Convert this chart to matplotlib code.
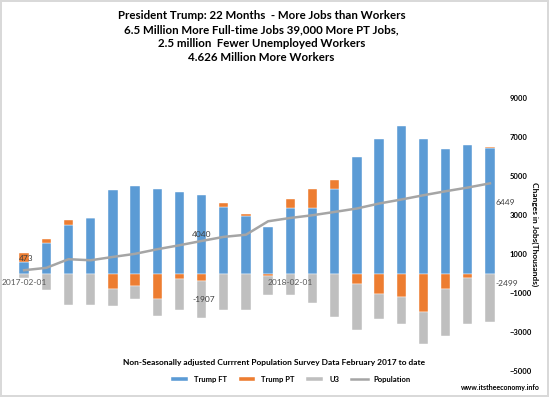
import numpy as np
import matplotlib.pyplot as plt

#dados (milhares), fev/2017 até nov/2018
meses = ["2017-02-01", "2017-03-01", "2017-04-01", "2017-05-01", "2017-06-01", "2017-07-01",
         "2017-08-01", "2017-09-01", "2017-10-01", "2017-11-01", "2017-12-01", "2018-01-01",
         "2018-02-01", "2018-03-01", "2018-04-01", "2018-05-01", "2018-06-01", "2018-07-01",
         "2018-08-01", "2018-09-01", "2018-10-01", "2018-11-01"]
trump_ft = [580, 1540, 2480, 2850, 4275, 4495, 4310, 4190, 4040, 3420, 2955, 2390,
            3365, 3365, 4310, 5980, 6890, 7590, 6925, 6410, 6580, 6449]
trump_pt = [473, 205, 260, 0, -790, -615, -1300, -275, -360, 205, 100, -120,
            480, 960, 477, -550, -1026, -1200, -1970, -805, -205, 39]
u3 = [-250, -860, -1625, -1625, -890, -690, -855, -1575, -1907, -1880, -1880, -960,
      -1077, -1508, -2226, -2360, -1320, -1400, -1670, -2395, -2395, -2499]
populacao = [170, 290, 735, 680, 850, 1010, 1245, 1450, 1670, 1880, 1990, 2680,
             2850, 2990, 3160, 3335, 3590, 3795, 4015, 4220, 4410, 4626]

titulo = ("President Trump: 22 Months  - More Jobs than Workers\n"
          "6.5 Million More Full-time Jobs 39,000 More PT Jobs,\n"
          "2.5 million  Fewer Unemployed Workers\n"
          "4.626 Million More Workers")

#cores estilo excel
azul = "#5B9BD5"
laranja = "#ED7D31"
cinza = "#BFBFBF"
linha = "#A5A5A5"
texto = "#404040"

plt.rcParams['font.family'] = ['Lato', 'DejaVu Sans']

x = np.arange(len(meses))
ft = np.array(trump_ft, dtype=float)
pt = np.array(trump_pt, dtype=float)
un = np.array(u3, dtype=float)

#empilhamento: positivos pra cima, negativos pra baixo
ft_base = np.zeros(len(x))
pt_base = np.where(pt >= 0, ft, 0)
u3_base = np.where(pt < 0, pt, 0)

fig = plt.figure(figsize=(5.49, 3.97), dpi=100)
fig.patch.set_edgecolor("#D9D9D9")
fig.patch.set_linewidth(1.5)
ax = fig.add_axes([0.0237, 0.0655, 0.889, 0.6875])

w = 0.42
b1 = ax.bar(x, ft, w, bottom=ft_base, color=azul, edgecolor="white", linewidth=0.3)
b2 = ax.bar(x, pt, w, bottom=pt_base, color=laranja, edgecolor="white", linewidth=0.3)
b3 = ax.bar(x, un, w, bottom=u3_base, color=cinza, edgecolor="white", linewidth=0.3)
l1, = ax.plot(x, populacao, color=linha, linewidth=1.8)

ax.set_xlim(-0.5, len(x) - 0.5)
ax.set_ylim(-5000, 9000)

#eixo y à direita
ax.yaxis.tick_right()
ax.set_yticks(np.arange(-5000, 9001, 2000))
ax.tick_params(axis='y', length=0, labelsize=5.5, pad=6)
for lb in ax.get_yticklabels():
    lb.set_fontweight("bold")
ax.yaxis.set_label_position("right")
ax.set_ylabel("Changes in Jobs(Thousands)", rotation=-90, fontsize=6, fontweight="bold",
              labelpad=5)

#eixo x no zero, só com 2 rótulos
ax.spines['bottom'].set_position(('data', 0))
for s in ['top', 'right', 'left', 'bottom']:
    ax.spines[s].set_visible(False)
ax.set_xticks([0, 12])
ax.set_xticklabels([meses[0], meses[12]], color="#595959")
ax.tick_params(axis='x', length=0, labelsize=6, pad=4)

#rótulos de dados
ax.text(0.1, 750, "473", fontsize=6, color=texto, ha='center', va='center')
ax.text(8, 2016, "4040", fontsize=6, color=texto, ha='center', va='center')
ax.text(8.1, -1318, "-1907", fontsize=6, color=texto, ha='center', va='center')
ax.text(21.25, 3630, "6449", fontsize=6, color=texto, ha='left', va='center')
ax.text(21.25, -500, "-2499", fontsize=6, color=texto, ha='left', va='center')

fig.text(0.476, 0.975, titulo, ha='center', va='top', fontsize=8.3, fontweight='bold',
         linespacing=1.35)
fig.text(0.5, 0.086, "Non-Seasonally adjusted Currrent Population Survey Data February 2017 to date",
         ha='center', va='center', fontsize=6, fontweight='bold')
fig.text(0.911, 0.023, "www.itstheeconomy.info", ha='center', va='center', fontsize=5,
         fontweight='bold')

fig.legend([b1, b2, b3, l1], ["Trump FT", "Trump PT", "U3", "Population"],
           loc='center', bbox_to_anchor=(0.53, 0.045), ncol=4, frameon=False,
           handlelength=2.2, handleheight=0.4, columnspacing=1.5,
           prop={'weight': 'bold', 'size': 5.5})

fig.savefig("out.png", dpi=100)
